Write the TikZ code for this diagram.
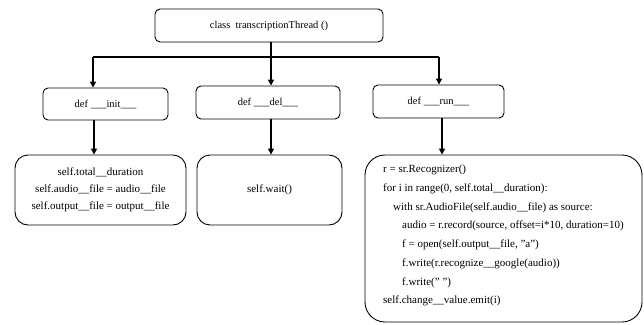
\documentclass[tikz,border=0pt]{standalone}
\usepackage{fontspec}
\setmainfont{Liberation Serif}
\usetikzlibrary{arrows.meta}
\begin{document}
\begin{tikzpicture}[x=1pt,y=-1pt,
  hdr/.style={draw, line width=0.9pt, rounded corners=5pt, inner sep=0pt, font=\fontsize{10.5}{12}\selectfont},
  body/.style={draw, line width=0.9pt, rounded corners=13pt, inner sep=0pt, font=\fontsize{11}{16.8}\selectfont, align=center},
  arr/.style={line width=1.5pt, -{Triangle[length=6pt,width=6pt]}},
  bus/.style={line width=1.5pt}]
\useasboundingbox (0,0) rectangle (644,324);
\node[hdr, minimum width=228pt, minimum height=33pt] (top) at (269,25.5) {class\ \ transcriptionThread ()};
\node[hdr, minimum width=125pt, minimum height=32pt] (init) at (105.5,104) {def \_\_\_init\_\_\_};
\node[hdr, minimum width=144pt, minimum height=33pt] (del) at (268,102.5) {def \_\_\_del\_\_\_};
\node[hdr, minimum width=131pt, minimum height=33pt] (run) at (438.5,101.5) {def \_\_\_run\_\_\_};
\node[body, minimum width=171pt, minimum height=70pt] (initb) at (100.5,190) {self.total\_\_duration\\self.audio\_\_file = audio\_\_file\\self.output\_\_file = output\_\_file};
\node[body, minimum width=145pt, minimum height=70pt] (delb) at (269.5,190) {self.wait()};
\node[draw, line width=0.9pt, rounded corners=20pt, minimum width=277pt, minimum height=167pt, inner sep=0pt] (runb) at (503.5,238.5) {};
\node[anchor=north west, inner sep=0pt, align=left, font=\fontsize{11}{18.7}\selectfont] (code) at (383,165) {r = sr.Recognizer()\\
for i in range(0, self.total\_\_duration):\\
\hspace*{10pt}with sr.AudioFile(self.audio\_\_file) as source:\\
\hspace*{19pt}audio = r.record(source, offset=i*10, duration=10)\\
\hspace*{19pt}f = open(self.output\_\_file, \char34 a\char34)\\
\hspace*{19pt}f.write(r.recognize\_\_google(audio))\\
\hspace*{19pt}f.write(\char34\ \char34)\\
self.change\_\_value.emit(i)};
\coordinate (b0) at (271,57);
\coordinate (b1) at (93,57);
\coordinate (b2) at (271,57);
\coordinate (b3) at (439,57);
\draw[bus] (b0 |- top.south) -- (b0);
\draw[bus] (b1) -- (b3);
\draw[arr] (b1) -- (b1 |- init.north);
\draw[arr] (b2) -- (b2 |- del.north);
\draw[arr] (b3) -- (b3 |- run.north);
\coordinate (c1) at (94,0);
\coordinate (c2) at (271,0);
\coordinate (c3) at (442,0);
\draw[arr] (c1 |- init.south) -- (c1 |- initb.north);
\draw[arr] (c2 |- del.south) -- (c2 |- delb.north);
\draw[arr] (c3 |- run.south) -- (c3 |- runb.north);
\end{tikzpicture}
\end{document}
